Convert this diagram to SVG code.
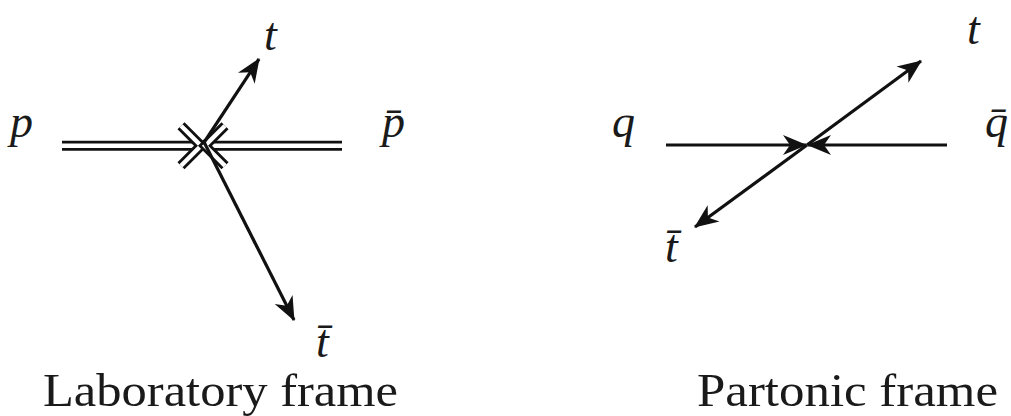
<svg xmlns="http://www.w3.org/2000/svg" width="1011" height="416" viewBox="0 0 1011 416">
<style>
.math{font-family:"Liberation Serif","Times New Roman",serif;font-style:italic;font-size:46px;fill:#1a1a1a}
.cap{font-family:"Liberation Serif","Times New Roman",serif;font-size:46px;fill:#1a1a1a}
.single{stroke:#111;stroke-width:3.2;fill:none}
.dblo{stroke:#111;stroke-width:10;fill:none;stroke-linecap:butt;stroke-linejoin:miter}
.dbli{stroke:#fff;stroke-width:4.4;fill:none;stroke-linecap:butt;stroke-linejoin:miter}
</style>
<defs>
<marker id="ah" viewBox="-26 -12 28 24" refX="-1" refY="0" markerWidth="28" markerHeight="24" markerUnits="userSpaceOnUse" orient="auto">
<path d="M0,0 L-24,-10 L-17,0 L-24,10 Z" fill="#111"/>
</marker>
</defs>
<rect width="1011" height="416" fill="#fff"/>
<g id="connectors">
<g id="lab-beams">
<path class="dblo" d="M62,145.7 H197"/>
<path class="dbli" d="M62,145.7 H197"/>
<path class="dblo" d="M342,145.7 H209"/>
<path class="dbli" d="M342,145.7 H209"/>
<path class="dblo" d="M181,125.7 L201,145.7 L181,165.7"/>
<path class="dbli" d="M181,125.7 L201,145.7 L181,165.7"/>
<path class="dblo" d="M225,125.7 L205,145.7 L225,165.7"/>
<path class="dbli" d="M225,125.7 L205,145.7 L225,165.7"/>
</g>
<line class="single" x1="203" y1="144" x2="259" y2="59" marker-end="url(#ah)"/>
<line class="single" x1="203" y1="140" x2="294" y2="320" marker-end="url(#ah)"/>
<line class="single" x1="666" y1="145" x2="806" y2="145" marker-end="url(#ah)"/>
<line class="single" x1="947" y1="145" x2="808" y2="145" marker-end="url(#ah)"/>
<line class="single" x1="807" y1="145" x2="921" y2="61" marker-end="url(#ah)"/>
<line class="single" x1="807" y1="145" x2="695" y2="227" marker-end="url(#ah)"/>
</g>
<g id="lab-p"><text class="math" x="10" y="137">p</text></g>
<g id="lab-pbar"><text class="math" x="382" y="137">p̄</text></g>
<g id="lab-t"><text class="math" x="264" y="50">t</text></g>
<g id="lab-tbar"><text class="math" x="316" y="357">t̄</text></g>
<g id="part-q"><text class="math" x="612" y="137">q</text></g>
<g id="part-qbar"><text class="math" x="985" y="137">q̄</text></g>
<g id="part-t"><text class="math" x="967" y="44">t</text></g>
<g id="part-tbar"><text class="math" x="665" y="262">t̄</text></g>
<g id="caption-lab"><text class="cap" x="43" y="406" textLength="355" lengthAdjust="spacingAndGlyphs">Laboratory frame</text></g>
<g id="caption-part"><text class="cap" x="697" y="406" textLength="301" lengthAdjust="spacingAndGlyphs">Partonic frame</text></g>
</svg>
